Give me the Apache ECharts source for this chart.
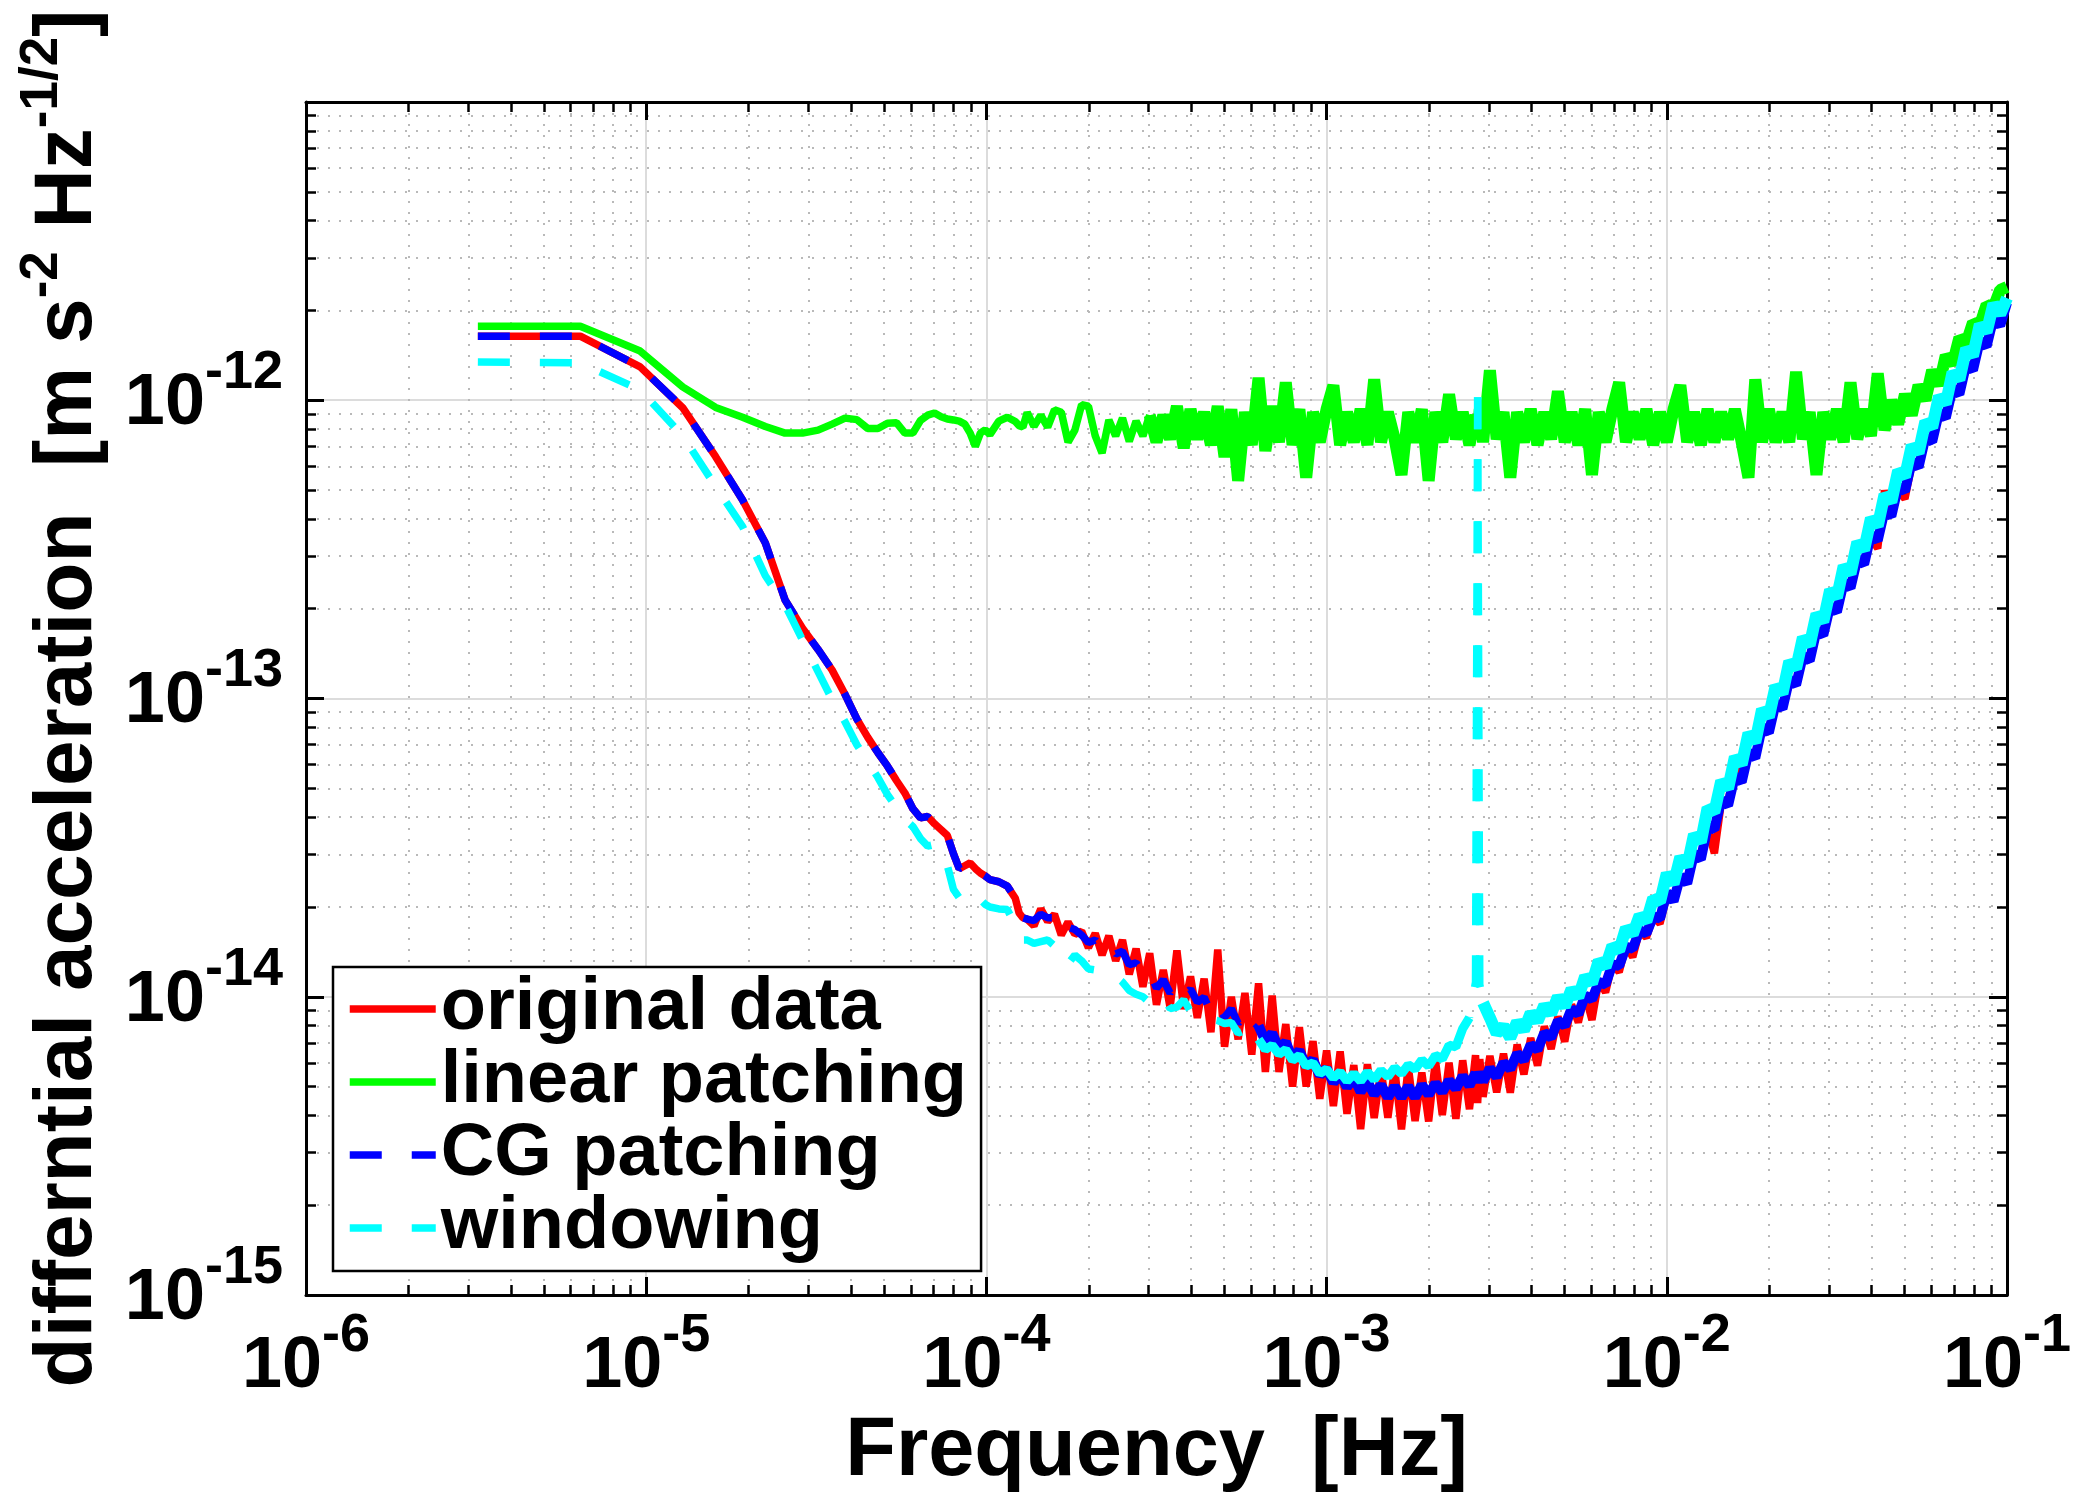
<!DOCTYPE html>
<html>
<head>
<meta charset="utf-8">
<script src="https://cdn.jsdelivr.net/npm/echarts@6/dist/echarts.min.js"></script>
<style>
html,body{margin:0;padding:0;background:#ffffff;}
#c{width:2077px;height:1495px;}
</style>
</head>
<body>
<div id="c"></div>
<script>
// ---------------- data ----------------
// frequency in micro-hertz
const freqUHz = [
  3.2, 6.4, 9.6, 12.8, 16, 19.2, 22.4, 25.6, 28.8, 32,
  35.2, 38.4, 41.6, 44.8, 48, 51.2, 54.4, 57.6, 60.8, 64,
  67.2, 70.4, 73.6, 76.8, 80, 83.2, 86.4, 89.6, 92.8, 96,
  99.2, 102.4, 108.8, 115.2, 121.6, 124.8, 128,
  131.8, 138.0, 144.5, 151.4, 158.5, 166.0, 173.8, 182.0, 190.5, 199.5,
  208.9, 218.8, 229.1, 239.9, 251.2, 263.0, 275.4, 288.4, 302.0, 316.2,
  331.1, 346.7, 363.1, 380.2, 398.1, 416.9, 436.5, 457.1, 478.6, 501.2,
  524.8, 549.5, 575.4, 602.6, 631.0, 660.7, 691.8, 724.4, 758.6, 794.3,
  831.8, 871.0, 912.0, 955.0,
  1000, 1047, 1096, 1148, 1202, 1259, 1318, 1380, 1445, 1514,
  1585, 1660, 1738, 1820, 1905, 1995, 2089, 2188, 2291, 2399,
  2512, 2630, 2740, 2780, 2820, 2884, 3020, 3162, 3311, 3467,
  3631, 3802, 3981, 4169, 4365, 4571, 4786, 5012, 5248, 5495,
  5754, 6026, 6310, 6607, 6918, 7244, 7586, 7943, 8318, 8710,
  9120, 9550,
  10000, 10470, 10960, 11480, 12020, 12590, 13180, 13800, 14450, 15140,
  15850, 16600, 17380, 18200, 19050, 19950, 20890, 21880, 22910, 23990,
  25120, 26300, 27540, 28840, 30200, 31620, 33110, 34670, 36310, 38020,
  39810, 41690, 43650, 45710, 47860, 50120, 52480, 54950, 57540, 60260,
  63100, 66070, 69180, 72440, 75860, 79430, 83180, 87100, 91200, 95500,
  100000
];

// amplitudes in units of 1e-15 m s^-2 Hz^-1/2
const originalData = [
  1640, 1640, 1294, 944, 647, 463, 332, 214, 172, 146,
  124.5, 103.3, 85.5, 74.1, 65.8, 59.3, 53.1, 48.2, 42.7, 39.8,
  40.2, 38.0, 36.3, 34.7, 30.2, 26.9, 27.5, 28.1, 26.9, 26.0,
  25.4, 24.7, 24.3, 23.5, 21.4, 19.1, 18.4,
  18.2, 17.3, 19.7, 17.9, 18.9, 16.1, 17.8, 16.2, 16.6, 14.6,
  16.3, 13.8, 16.0, 13.2, 15.5, 11.9, 14.5, 10.8, 14.0, 9.4,
  12.3, 9.2, 14.3, 9.1, 11.7, 8.5, 11.5, 7.6, 14.4, 6.8,
  10.0, 7.2, 10.3, 6.4, 11.1, 5.6, 10.1, 5.6, 8.1, 5.0,
  7.9, 5.0, 7.1, 4.55,
  6.6, 4.3, 6.56, 4.05, 5.9, 3.6, 5.94, 3.92, 5.71, 3.93,
  5.75, 3.59, 5.84, 3.83, 5.57, 3.82, 6.13, 4.01, 6.01, 3.9,
  6.12, 4.2, 6.37, 4.4, 6.18, 4.62, 6.33, 4.78, 6.44, 4.77,
  6.91, 5.49, 7.27, 5.88, 7.96, 6.68, 8.58, 7.07, 9.41, 8.21,
  10.2, 8.36, 11.3, 10.35, 12.9, 12.1, 14.8, 13.6, 16.6, 15.8,
  18.5, 17.6,
  21.7, 21.3, 24.9, 24.2, 29.3, 29.4, 36.8, 30.3, 44.4, 44.5,
  62.6, 52.3, 64.2, 64.2, 78.0, 77.3, 94.7, 94.0, 112, 113,
  137, 134, 164, 165, 201, 196, 238, 238, 289, 287,
  344, 319, 498, 415, 498, 467, 605, 606, 728, 745,
  877, 896, 1054, 1088, 1267, 1309, 1523, 1573, 1793, 1867,
  2120
];

const linearPatching = [
  1770, 1770, 1462, 1109, 946, 877, 817, 776, 776, 794,
  832, 871, 861, 804, 804, 837, 841, 776, 776, 855,
  891, 906, 881, 865, 859, 851, 832, 776, 700, 776,
  796, 767, 851, 877, 849, 822, 813,
  910, 817, 891, 813, 929, 912, 724, 794, 966, 955,
  759, 665, 859, 759, 871, 728, 851, 759, 891, 724,
  891, 741, 955, 692, 933, 741, 912, 708, 955, 646,
  933, 537, 912, 708, 1189, 676, 955, 724, 1148, 708,
  933, 550, 912, 724,
  933, 1122, 708, 912, 724, 933, 708, 1175, 724, 912,
  741, 562, 912, 724, 933, 537, 912, 724, 1047, 741,
  912, 708, 891, 759, 933, 724, 1259, 741, 912, 550,
  912, 724, 933, 708, 912, 741, 1072, 724, 912, 708,
  933, 562, 912, 724, 933, 1148, 724, 912, 741, 933,
  708, 912,
  724, 933, 1122, 724, 912, 708, 933, 724, 912, 741,
  933, 724, 550, 1175, 724, 933, 724, 912, 724, 1245,
  741, 912, 562, 912, 741, 933, 724, 1148, 741, 933,
  759, 1230, 794, 1000, 832, 1047, 891, 1122, 1000, 1259,
  1122, 1413, 1318, 1622, 1549, 1820, 1778, 2089, 2042, 2344,
  2399
];

const cgPatching = [
  1640, 1640, 1294, 944, 647, 463, 332, 214, 172, 146,
  124.5, 103.3, 85.5, 74.1, 65.8, 59.3, 53.1, 48.2, 42.7, 39.8,
  40.2, 38.0, 36.3, 34.7, 30.2, 26.9, 27.5, 28.1, 26.9, 26.0,
  25.4, 24.7, 24.3, 23.5, 21.4, 19.1, 18.4,
  18.2, 18.0, 18.9, 18.4, 18.4, 16.4, 17.1, 16.8, 16.1, 15.2,
  15.5, 14.4, 14.9, 13.9, 14.2, 12.8, 13.0, 11.9, 12.1, 10.7,
  11.4, 10.3, 11.0, 10.1, 10.6, 9.6, 9.95, 8.85, 9.4, 8.55,
  9.1, 8.15, 8.6, 7.6, 8.0, 7.1, 7.55, 6.7, 7.05, 6.2,
  6.6, 5.85, 6.15, 5.45,
  5.75, 5.15, 5.5, 4.98, 5.37, 4.8, 5.2, 4.7, 5.06, 4.6,
  5.0, 4.6, 5.0, 4.6, 5.06, 4.7, 5.12, 4.8, 5.24, 4.92,
  5.42, 5.04, 5.55, 5.15, 5.6, 5.2, 5.75, 5.39, 6.01, 5.72,
  6.45, 6.12, 6.9, 6.64, 7.56, 7.29, 8.3, 7.99, 9.1, 8.76,
  10.1, 9.79, 11.2, 11.0, 12.85, 12.7, 14.7, 14.5, 16.7, 16.3,
  18.6, 18.3,
  22.4, 20.9, 25.4, 24.0, 30.2, 28.9, 37.1, 36.4, 45.7, 43.8,
  54.9, 52.5, 66.0, 63.2, 80.3, 76.9, 96.5, 92.5, 116, 111,
  139, 134, 169, 163, 204, 195, 245, 235, 294, 282,
  354, 339, 426, 409, 513, 496, 623, 597, 749, 726,
  911, 872, 1095, 1049, 1316, 1261, 1583, 1517, 1881, 1781,
  2120
];

const windowing = [
  1343, 1334, 1084, 760, 514, 377, 258, 206, 157, 123,
  99.1, 83.6, 70.0, 61.4, 54.3, 47.6, 43.1, 39.3, 37.2, 33.9,
  32.0, 32.4, 29.6, 27.5, 22.9, 21.5, 22.1, 22.6, 21.9, 21.2,
  20.4, 20.0, 19.7, 19.6, 17.4, 16.0, 15.5,
  15.5, 15.1, 15.3, 15.5, 14.8, 14.5, 12.9, 13.8, 13.2, 12.4,
  12.3, 12.2, 12.0, 11.7, 11.2, 10.5, 10.2, 10.0, 9.55, 9.89,
  10.0, 9.12, 9.23, 9.77, 8.91, 8.81, 8.51, 8.41, 8.32, 8.13,
  8.2, 7.55, 7.72, 7.03, 7.2, 6.65, 6.88, 6.42, 6.65, 6.13,
  6.35, 5.86, 6.0, 5.53,
  5.72, 5.34, 5.6, 5.21, 5.53, 5.21, 5.6, 5.27, 5.67, 5.39,
  5.79, 5.52, 5.92, 5.71, 6.14, 5.85, 6.36, 6.19, 6.88, 6.79,
  7.82, 8.51, 11.2, 1023, 11.0, 9.55, 8.51, 7.54, 7.97, 7.29,
  8.24, 7.72, 8.83, 8.27, 9.36, 8.77, 10.0, 9.28, 10.6, 9.98,
  11.7, 11.1, 13.2, 12.6, 14.8, 14.3, 17.0, 16.2, 18.7, 17.9,
  21.4, 20.8,
  25.9, 23.9, 29.4, 27.4, 35.0, 33.0, 43.0, 41.6, 52.9, 49.9,
  63.6, 60.1, 76.5, 71.3, 91.9, 86.8, 110, 104, 133, 126,
  160, 151, 192, 181, 231, 218, 278, 262, 334, 315,
  402, 379, 483, 456, 580, 554, 705, 666, 848, 810,
  1031, 974, 1240, 1171, 1490, 1408, 1793, 1693, 2106, 1943,
  2200
];

const seriesNames = ['original data', 'linear patching', 'CG patching', 'windowing'];
const xTickExponents = [-6, -5, -4, -3, -2, -1];
const yTickExponents = [-15, -14, -13, -12, -11];
const minorMultipliers = [2, 3, 4, 5, 6, 7, 8, 9];

// ---------------- helpers ----------------
const UHZ = 1e-6;      // micro-hertz -> Hz
const UNIT = 1e-15;    // amplitude unit
const FONT = 'Liberation Sans';
const LW = 7.5;        // normal stroke
const DASH = [32, 30];
const DENSE_FROM = 302.0;               // uHz: linear patching becomes a dense band
const DASH_END = 631.0;                 // uHz: dashes visible below this
const SPIKE_LO = 2630, SPIKE_TOP = 2780, SPIKE_HI = 2884; // uHz: dashed spike of the windowing curve

function pts(vals, lo, hi) {
  const out = [];
  for (let i = 0; i < freqUHz.length; i++) {
    const f = freqUHz[i];
    if (f >= lo && f <= hi) out.push([f * UHZ, vals[i] * UNIT]);
  }
  return out;
}
function mk(name, data, color, dash, width) {
  return {
    type: 'line', name: name, data: data,
    xAxisIndex: 0, yAxisIndex: 0,
    symbol: 'none', showSymbol: false, silent: true, animation: false,
    clip: true,
    lineStyle: { color: color, width: width || LW, type: dash || 'solid', cap: 'butt', join: 'bevel' },
    itemStyle: { color: color },
    emphasis: { disabled: true }
  };
}
function minorVals(exps) {
  const out = [];
  exps.slice(0, -1).forEach(function (e) {
    minorMultipliers.forEach(function (m) { out.push(m * Math.pow(10, e)); });
  });
  return out;
}
const xMinor = minorVals(xTickExponents);
const yMinor = minorVals(yTickExponents);

const labelRich = {
  b: { fontSize: 72, fontWeight: 'bold', fontFamily: FONT, color: '#000', verticalAlign: 'bottom', lineHeight: 72 },
  s: { fontSize: 54, fontWeight: 'bold', fontFamily: FONT, color: '#000', verticalAlign: 'top', padding: [0, 0, 40, 0] }
};
function expLabelX(v) {
  const e = Math.round(Math.log10(v));
  return '{b|10}{s|' + e + '}';
}
function expLabelY(v) {
  const e = Math.round(Math.log10(v));
  if (e === -11) return '';
  return '{b|10}{s|' + e + '}';
}

const X_MIN = Math.pow(10, xTickExponents[0]), X_MAX = Math.pow(10, xTickExponents[xTickExponents.length - 1]);
const Y_MIN = Math.pow(10, yTickExponents[0]), Y_MAX = Math.pow(10, yTickExponents[yTickExponents.length - 1]);

const axisLineStyle = { color: '#000', width: 3 };
const majorSplit = { show: true, lineStyle: { color: '#dcdcdc', width: 2, type: 'solid' } };
const minorSplit = { show: true, lineStyle: { color: '#b9b9b9', width: 2, type: [2, 9] } };

function xAx(pos, main, minor) {
  return {
    type: 'log', logBase: 10, min: X_MIN, max: X_MAX, position: pos, splitNumber: 5,
    axisLine: { show: main, onZero: false, lineStyle: axisLineStyle },
    axisTick: minor
      ? { show: true, inside: true, length: 10, customValues: xMinor, lineStyle: { color: '#000', width: 2.5 } }
      : { show: true, inside: true, length: 18, lineStyle: { color: '#000', width: 3 } },
    minorTick: { show: false },
    axisLabel: (pos === 'bottom' && !minor)
      ? { show: true, margin: 14, formatter: expLabelX, rich: labelRich, showMinLabel: true, showMaxLabel: true, hideOverlap: false }
      : { show: false },
    splitLine: pos === 'bottom' ? (minor ? minorSplit : majorSplit) : { show: false },
    minorSplitLine: { show: false },
    axisPointer: { show: false },
    silent: true
  };
}
function yAx(pos, main, minor) {
  return {
    type: 'log', logBase: 10, min: Y_MIN, max: Y_MAX, position: pos, splitNumber: 4,
    axisLine: { show: main, onZero: false, lineStyle: axisLineStyle },
    axisTick: minor
      ? { show: true, inside: true, length: 10, customValues: yMinor, lineStyle: { color: '#000', width: 2.5 } }
      : { show: true, inside: true, length: 18, lineStyle: { color: '#000', width: 3 } },
    minorTick: { show: false },
    axisLabel: (pos === 'left' && !minor)
      ? { show: true, margin: 23, formatter: expLabelY, rich: labelRich, padding: [0, 0, 14, 0], showMinLabel: true, showMaxLabel: true, hideOverlap: false }
      : { show: false },
    splitLine: pos === 'left' ? (minor ? minorSplit : majorSplit) : { show: false },
    minorSplitLine: { show: false },
    axisPointer: { show: false },
    silent: true
  };
}

const xAxes = [xAx('bottom', true, false), xAx('bottom', false, true), xAx('top', true, false), xAx('top', false, true)];
xAxes[0].name = 'Frequency  [Hz]';
xAxes[0].nameLocation = 'middle';
xAxes[0].nameGap = 116;
xAxes[0].nameTextStyle = { fontSize: 83, fontWeight: 'bold', fontFamily: FONT, color: '#000' };

const yAxes = [yAx('left', true, false), yAx('left', false, true), yAx('right', true, false), yAx('right', false, true)];
yAxes[0].name = '{t|differntial acceleration  [m s}{u|-2}{t| Hz}{u|-1/2}{t|]}';
yAxes[0].nameLocation = 'middle';
yAxes[0].nameRotate = 90;
yAxes[0].nameGap = 197;
yAxes[0].nameTextStyle = {
  rich: {
    t: { fontSize: 82, fontWeight: 'bold', fontFamily: FONT, color: '#000', verticalAlign: 'bottom', lineHeight: 82 },
    u: { fontSize: 53, fontWeight: 'bold', fontFamily: FONT, color: '#000', verticalAlign: 'top', padding: [0, 0, 40, 0] }
  }
};

// the spike of the windowing curve is drawn from its peak outwards on both sides,
// so that the dash pattern of both flanks starts at the same place
const spikeLeft = pts(windowing, SPIKE_LO, SPIKE_TOP).reverse();
const spikeRight = pts(windowing, SPIKE_TOP, SPIKE_HI);

const series = [
  mk(seriesNames[0], pts(originalData, 0, Infinity), '#ff0000', null, LW),
  mk(seriesNames[1], pts(linearPatching, 0, DENSE_FROM), '#00ff00', null, LW),
  mk(seriesNames[1], pts(linearPatching, DENSE_FROM, Infinity), '#00ff00', null, 12),
  mk(seriesNames[2], pts(cgPatching, 0, DASH_END), '#0000ff', DASH, LW),
  mk(seriesNames[2], pts(cgPatching, DASH_END, Infinity), '#0000ff', null, 10),
  mk(seriesNames[3], pts(windowing, 0, DASH_END), '#00ffff', DASH, LW),
  mk(seriesNames[3], spikeLeft, '#00ffff', DASH, LW),
  mk(seriesNames[3], spikeRight, '#00ffff', DASH, LW),
  mk(seriesNames[3], pts(windowing, DASH_END, SPIKE_LO), '#00ffff', null, 9),
  mk(seriesNames[3], pts(windowing, SPIKE_HI, Infinity), '#00ffff', null, 12)
];

const option = {
  backgroundColor: '#ffffff',
  animation: false,
  grid: { left: 306, right: 70, top: 102, bottom: 200, containLabel: false, outerBoundsMode: 'none', show: false },
  xAxis: xAxes,
  yAxis: yAxes,
  legend: {
    data: seriesNames,
    orient: 'vertical',
    left: 333, top: 967,
    itemWidth: 86, itemHeight: 20, itemGap: -1,
    padding: [5, 14, 6, 13],
    backgroundColor: '#ffffff',
    borderColor: '#000', borderWidth: 2.5, borderRadius: 0,
    textStyle: { fontSize: 74, fontWeight: 'bold', fontFamily: FONT, color: '#000' },
    lineStyle: { width: LW },
    itemStyle: { opacity: 0, borderWidth: 0 },
    selectedMode: false,
    z: 10
  },
  series: series
};

const chart = echarts.init(document.getElementById('c'), null, { renderer: 'canvas', width: 2077, height: 1495 });
chart.setOption(option);
</script>
</body>
</html>
